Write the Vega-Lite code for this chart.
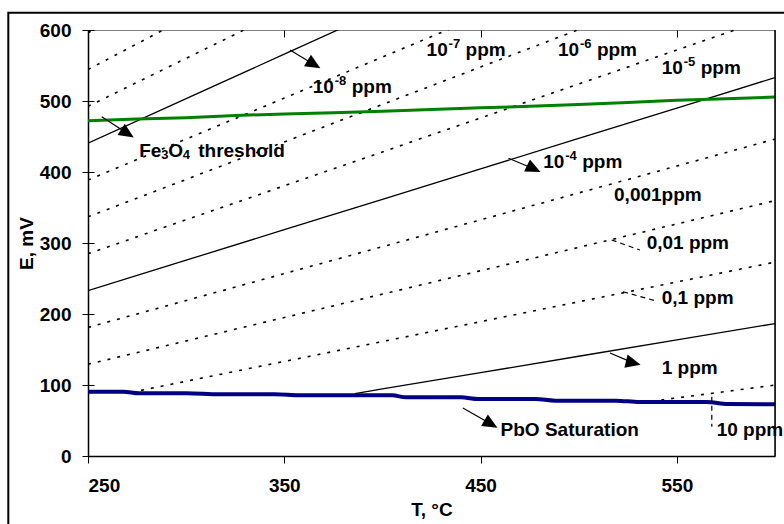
{
  "$schema": "https://vega.github.io/schema/vega-lite/v6.json",
  "width": 687,
  "height": 426,
  "autosize": {"type": "none"},
  "padding": {"left": 88, "top": 30, "right": 9, "bottom": 68},
  "background": "white",
  "config": {
    "font": "Liberation Sans",
    "view": {"stroke": "#808080", "strokeWidth": 1},
    "axis": {
      "labelFont": "Liberation Sans", "labelFontSize": 19, "labelFontWeight": "bold", "labelColor": "black",
      "titleFont": "Liberation Sans", "titleFontSize": 19, "titleFontWeight": "bold", "titleColor": "black",
      "domainColor": "black", "domainWidth": 1.5, "tickColor": "black", "tickWidth": 1
    },
    "text": {"font": "Liberation Sans", "fontSize": 19, "fontWeight": "bold", "fill": "black", "align": "left", "baseline": "middle"},
    "point": {"shape": "M0,-1L0.9,1L-0.9,1Z", "filled": true, "color": "black", "opacity": 1, "size": 225, "strokeWidth": 0}
  },
  "datasets": {
    "dotted": [
      {"ppm": "1e-11", "T": 250, "E": 596.2}, {"ppm": "1e-11", "T": 260, "E": 611.8},
      {"ppm": "1e-10", "T": 250, "E": 544.3}, {"ppm": "1e-10", "T": 300, "E": 617.0},
      {"ppm": "1e-9", "T": 250, "E": 492.4}, {"ppm": "1e-9", "T": 300, "E": 560.1}, {"ppm": "1e-9", "T": 350, "E": 627.8},
      {"ppm": "1e-7", "T": 250, "E": 388.7}, {"ppm": "1e-7", "T": 300, "E": 446.4}, {"ppm": "1e-7", "T": 350, "E": 504.1}, {"ppm": "1e-7", "T": 400, "E": 561.9}, {"ppm": "1e-7", "T": 450, "E": 619.6},
      {"ppm": "1e-6", "T": 250, "E": 336.8}, {"ppm": "1e-6", "T": 300, "E": 389.5}, {"ppm": "1e-6", "T": 350, "E": 442.3}, {"ppm": "1e-6", "T": 400, "E": 495.1}, {"ppm": "1e-6", "T": 450, "E": 547.9}, {"ppm": "1e-6", "T": 500, "E": 600.6},
      {"ppm": "1e-5", "T": 250, "E": 284.9}, {"ppm": "1e-5", "T": 300, "E": 332.7}, {"ppm": "1e-5", "T": 350, "E": 380.5}, {"ppm": "1e-5", "T": 400, "E": 428.3}, {"ppm": "1e-5", "T": 450, "E": 476.1}, {"ppm": "1e-5", "T": 500, "E": 524.0}, {"ppm": "1e-5", "T": 550, "E": 571.8}, {"ppm": "1e-5", "T": 600, "E": 619.6},
      {"ppm": "1e-3", "T": 250, "E": 181.1}, {"ppm": "1e-3", "T": 300, "E": 219.0}, {"ppm": "1e-3", "T": 350, "E": 256.9}, {"ppm": "1e-3", "T": 400, "E": 294.8}, {"ppm": "1e-3", "T": 450, "E": 332.6}, {"ppm": "1e-3", "T": 500, "E": 370.5}, {"ppm": "1e-3", "T": 550, "E": 408.4}, {"ppm": "1e-3", "T": 600, "E": 446.3},
      {"ppm": "1e-2", "T": 250, "E": 129.2}, {"ppm": "1e-2", "T": 300, "E": 162.1}, {"ppm": "1e-2", "T": 350, "E": 195.0}, {"ppm": "1e-2", "T": 400, "E": 228.0}, {"ppm": "1e-2", "T": 450, "E": 260.9}, {"ppm": "1e-2", "T": 500, "E": 293.9}, {"ppm": "1e-2", "T": 550, "E": 326.8}, {"ppm": "1e-2", "T": 600, "E": 359.7},
      {"ppm": "1e-1", "T": 272, "E": 89.6}, {"ppm": "1e-1", "T": 300, "E": 105.3}, {"ppm": "1e-1", "T": 350, "E": 133.2}, {"ppm": "1e-1", "T": 400, "E": 161.2}, {"ppm": "1e-1", "T": 450, "E": 189.2}, {"ppm": "1e-1", "T": 500, "E": 217.2}, {"ppm": "1e-1", "T": 550, "E": 245.1}, {"ppm": "1e-1", "T": 600, "E": 273.1},
      {"ppm": "10", "T": 537, "E": 77.1}, {"ppm": "10", "T": 550, "E": 81.8}, {"ppm": "10", "T": 600, "E": 99.9}
    ],
    "solid": [
      {"ppm": "1e-8", "T": 250, "E": 440.6}, {"ppm": "1e-8", "T": 300, "E": 503.3}, {"ppm": "1e-8", "T": 350, "E": 566.0}, {"ppm": "1e-8", "T": 400, "E": 628.6},
      {"ppm": "1e-4", "T": 250, "E": 233.0}, {"ppm": "1e-4", "T": 300, "E": 275.8}, {"ppm": "1e-4", "T": 350, "E": 318.7}, {"ppm": "1e-4", "T": 400, "E": 361.5}, {"ppm": "1e-4", "T": 450, "E": 404.4}, {"ppm": "1e-4", "T": 500, "E": 447.2}, {"ppm": "1e-4", "T": 550, "E": 490.1}, {"ppm": "1e-4", "T": 600, "E": 532.9},
      {"ppm": "1", "T": 386, "E": 88.0}, {"ppm": "1", "T": 400, "E": 94.4}, {"ppm": "1", "T": 450, "E": 117.4}, {"ppm": "1", "T": 500, "E": 140.5}, {"ppm": "1", "T": 550, "E": 163.5}, {"ppm": "1", "T": 600, "E": 186.5}
    ],
    "fe3o4": [
      {"T": 250, "E": 472.3}, {"T": 275, "E": 474.5}, {"T": 300, "E": 476.5}, {"T": 325, "E": 479.5}, {"T": 350, "E": 481.8},
      {"T": 375, "E": 483.5}, {"T": 400, "E": 485.5}, {"T": 425, "E": 488}, {"T": 450, "E": 490.5}, {"T": 475, "E": 492.5},
      {"T": 500, "E": 495}, {"T": 525, "E": 498}, {"T": 550, "E": 501}, {"T": 575, "E": 503}, {"T": 600, "E": 505.5}
    ],
    "pbo": [
      {"T": 250, "E": 90.6}, {"T": 268, "E": 90.6}, {"T": 276, "E": 88.3}, {"T": 300, "E": 88.3}, {"T": 317, "E": 86.8},
      {"T": 345, "E": 86.8}, {"T": 358, "E": 85.4}, {"T": 405, "E": 85.4}, {"T": 412, "E": 82.6}, {"T": 440, "E": 82.6},
      {"T": 449, "E": 80.3}, {"T": 478, "E": 80.3}, {"T": 488, "E": 77.9}, {"T": 519, "E": 77.9}, {"T": 531, "E": 76.0},
      {"T": 565, "E": 76.0}, {"T": 576, "E": 73.2}, {"T": 600, "E": 73.0}
    ],
    "labels": [
      {"text": "0,001ppm", "T": 518.0, "E": 367.6},
      {"text": "0,01 ppm", "T": 534.6, "E": 300.0},
      {"text": "0,1 ppm", "T": 542.3, "E": 222.5},
      {"text": "1 ppm", "T": 542.3, "E": 124.0},
      {"text": "PbO Saturation", "T": 460.2, "E": 36.6},
      {"text": "10 ppm", "T": 570.3, "E": 36.6}
    ],
    "powers": [
      {"base": "10", "exp": "-8", "unit": "ppm", "T": 364.5, "E": 520.1},
      {"base": "10", "exp": "-7", "unit": "ppm", "T": 422.5, "E": 571.4},
      {"base": "10", "exp": "-6", "unit": "ppm", "T": 489.4, "E": 571.4},
      {"base": "10", "exp": "-5", "unit": "ppm", "T": 542.3, "E": 546.1},
      {"base": "10", "exp": "-4", "unit": "ppm", "T": 481.9, "E": 413.4}
    ],
    "formula": [
      {"p1": "Fe", "s1": "3", "p2": "O", "s2": "4", "p3": "threshold", "T": 276.1, "E": 429.9}
    ],
    "arrows": [
      {"id": "Fe3O4", "T": 257.0, "E": 477.9, "T2": 270.1, "E2": 454.2},
      {"id": "1e-8", "T": 352.9, "E": 571.8, "T2": 365.1, "E2": 551.5},
      {"id": "1e-4", "T": 464.2, "E": 419.3, "T2": 477.1, "E2": 404.6},
      {"id": "1", "T": 515.9, "E": 145.1, "T2": 527.8, "E2": 131.1},
      {"id": "PbO", "T": 441.0, "E": 67.6, "T2": 455.3, "E2": 45.1}
    ],
    "leaders": [
      {"id": "1e-2", "T": 516.8, "E": 304.2, "T2": 531.2, "E2": 290.1},
      {"id": "1e-1", "T": 522.6, "E": 231.4, "T2": 538.9, "E2": 218.7},
      {"id": "10", "T": 567.8, "E": 83.5, "T2": 567.8, "E2": 41.3}
    ]
  },
  "encoding": {
    "x": {"type": "quantitative", "scale": {"domain": [250, 600], "nice": false, "zero": false}},
    "y": {"type": "quantitative", "scale": {"domain": [0, 600], "nice": false}}
  },
  "layer": [
    {
      "data": {"name": "dotted"},
      "mark": {"type": "line", "color": "black", "strokeWidth": 1.6, "strokeDash": [3, 7], "strokeCap": "butt", "clip": true},
      "encoding": {
        "x": {"field": "T", "type": "quantitative",
          "axis": {"title": "T, °C", "values": [250, 350, 450, 550], "grid": true, "gridDash": [7, 2000], "gridColor": "black", "gridWidth": 1, "tickSize": 7, "labelPadding": 13, "titlePadding": 5}},
        "y": {"field": "E", "type": "quantitative",
          "axis": {"title": "E, mV", "values": [0, 100, 200, 300, 400, 500, 600], "grid": true, "gridDash": [6, 2000], "gridColor": "black", "gridWidth": 1, "tickSize": 6, "labelPadding": 11, "titlePadding": 3}},
        "detail": {"field": "ppm"}
      }
    },
    {
      "data": {"name": "solid"},
      "mark": {"type": "line", "color": "black", "strokeWidth": 1.3, "clip": true},
      "encoding": {
        "x": {"field": "T", "type": "quantitative"},
        "y": {"field": "E", "type": "quantitative"},
        "detail": {"field": "ppm"}
      }
    },
    {
      "data": {"name": "fe3o4"},
      "mark": {"type": "line", "color": "#008000", "strokeWidth": 3, "clip": true},
      "encoding": {
        "x": {"field": "T", "type": "quantitative"},
        "y": {"field": "E", "type": "quantitative"}
      }
    },
    {
      "data": {"name": "pbo"},
      "mark": {"type": "line", "color": "#000080", "strokeWidth": 4, "clip": true, "interpolate": "monotone"},
      "encoding": {
        "x": {"field": "T", "type": "quantitative"},
        "y": {"field": "E", "type": "quantitative"}
      }
    },
    {
      "data": {"name": "leaders"},
      "mark": {"type": "rule", "color": "black", "strokeWidth": 1.2, "strokeDash": [5, 4]},
      "encoding": {
        "x": {"field": "T", "type": "quantitative"},
        "y": {"field": "E", "type": "quantitative"},
        "x2": {"field": "T2"},
        "y2": {"field": "E2"}
      }
    },
    {
      "data": {"name": "arrows"},
      "mark": {"type": "rule", "color": "black", "strokeWidth": 1.2},
      "encoding": {
        "x": {"field": "T", "type": "quantitative"},
        "y": {"field": "E", "type": "quantitative"},
        "x2": {"field": "T2"},
        "y2": {"field": "E2"}
      }
    },
    {
      "data": {"name": "arrows"},
      "transform": [{"filter": "datum.id === 'Fe3O4'"}],
      "mark": {"type": "point"},
      "encoding": {"x": {"field": "T2", "type": "quantitative"}, "y": {"field": "E2", "type": "quantitative"}, "angle": {"value": 123}}
    },
    {
      "data": {"name": "arrows"},
      "transform": [{"filter": "datum.id === '1e-8'"}],
      "mark": {"type": "point"},
      "encoding": {"x": {"field": "T2", "type": "quantitative"}, "y": {"field": "E2", "type": "quantitative"}, "angle": {"value": 121}}
    },
    {
      "data": {"name": "arrows"},
      "transform": [{"filter": "datum.id === '1e-4'"}],
      "mark": {"type": "point"},
      "encoding": {"x": {"field": "T2", "type": "quantitative"}, "y": {"field": "E2", "type": "quantitative"}, "angle": {"value": 116}}
    },
    {
      "data": {"name": "arrows"},
      "transform": [{"filter": "datum.id === '1'"}],
      "mark": {"type": "point"},
      "encoding": {"x": {"field": "T2", "type": "quantitative"}, "y": {"field": "E2", "type": "quantitative"}, "angle": {"value": 104}}
    },
    {
      "data": {"name": "arrows"},
      "transform": [{"filter": "datum.id === 'PbO'"}],
      "mark": {"type": "point"},
      "encoding": {"x": {"field": "T2", "type": "quantitative"}, "y": {"field": "E2", "type": "quantitative"}, "angle": {"value": 120}}
    },
    {
      "data": {"name": "labels"},
      "mark": {"type": "text"},
      "encoding": {"x": {"field": "T", "type": "quantitative"}, "y": {"field": "E", "type": "quantitative"}, "text": {"field": "text"}}
    },
    {
      "data": {"name": "powers"},
      "mark": {"type": "text"},
      "encoding": {"x": {"field": "T", "type": "quantitative"}, "y": {"field": "E", "type": "quantitative"}, "text": {"field": "base"}}
    },
    {
      "data": {"name": "powers"},
      "mark": {"type": "text", "fontSize": 13, "dx": 22, "dy": -6},
      "encoding": {"x": {"field": "T", "type": "quantitative"}, "y": {"field": "E", "type": "quantitative"}, "text": {"field": "exp"}}
    },
    {
      "data": {"name": "powers"},
      "mark": {"type": "text", "dx": 39},
      "encoding": {"x": {"field": "T", "type": "quantitative"}, "y": {"field": "E", "type": "quantitative"}, "text": {"field": "unit"}}
    },
    {
      "data": {"name": "formula"},
      "mark": {"type": "text"},
      "encoding": {"x": {"field": "T", "type": "quantitative"}, "y": {"field": "E", "type": "quantitative"}, "text": {"field": "p1"}}
    },
    {
      "data": {"name": "formula"},
      "mark": {"type": "text", "fontSize": 13, "dx": 22, "dy": 4},
      "encoding": {"x": {"field": "T", "type": "quantitative"}, "y": {"field": "E", "type": "quantitative"}, "text": {"field": "s1"}}
    },
    {
      "data": {"name": "formula"},
      "mark": {"type": "text", "dx": 29},
      "encoding": {"x": {"field": "T", "type": "quantitative"}, "y": {"field": "E", "type": "quantitative"}, "text": {"field": "p2"}}
    },
    {
      "data": {"name": "formula"},
      "mark": {"type": "text", "fontSize": 13, "dx": 43.5, "dy": 4},
      "encoding": {"x": {"field": "T", "type": "quantitative"}, "y": {"field": "E", "type": "quantitative"}, "text": {"field": "s2"}}
    },
    {
      "data": {"name": "formula"},
      "mark": {"type": "text", "dx": 59},
      "encoding": {"x": {"field": "T", "type": "quantitative"}, "y": {"field": "E", "type": "quantitative"}, "text": {"field": "p3"}}
    },
    {
      "data": {"values": [{}]},
      "mark": {"type": "rule", "color": "black", "strokeWidth": 1.5},
      "encoding": {
        "x": {"datum": 600, "type": "quantitative"},
        "y": {"datum": 0, "type": "quantitative"},
        "y2": {"datum": 600}
      }
    },
    {
      "data": {"values": [{}]},
      "mark": {"type": "rect", "fill": "transparent", "stroke": "black", "strokeWidth": 2, "clip": false},
      "encoding": {
        "x": {"datum": 209.4, "type": "quantitative"},
        "x2": {"datum": 660},
        "y": {"datum": 624.4, "type": "quantitative"},
        "y2": {"datum": -150}
      }
    }
  ]
}
